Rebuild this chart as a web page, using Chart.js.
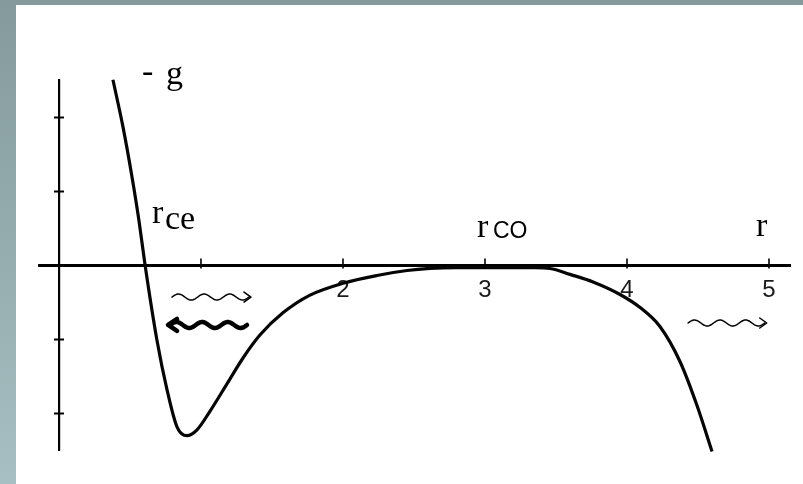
<!DOCTYPE html>
<html>
<head>
<meta charset="utf-8">
<script src="https://cdn.jsdelivr.net/npm/chart.js@4/dist/chart.umd.min.js"></script>
<style>
  html, body { margin: 0; padding: 0; background: #ffffff; }
  #wrap { position: relative; width: 803px; height: 484px; overflow: hidden; }
  #plot { position: absolute; left: 0; top: 0; }
  .bar-top { position: absolute; left: 0; top: 0; width: 803px; height: 5px; background: #849a9c; }
  .bar-left { position: absolute; left: 0; top: 0; width: 16px; height: 484px;
              background: linear-gradient(#849a9c, #a7bfc2); }
</style>
</head>
<body>
<div id="wrap">
  <canvas id="plot" width="803" height="484"></canvas>
  <div class="bar-top"></div>
  <div class="bar-left"></div>
</div>
<script>
// -g(r) curve
const radius = [0.380, 0.451, 0.514, 0.563, 0.606, 0.690, 0.761, 0.831, 0.901,
                0.972, 1.063, 1.183, 1.296, 1.415, 1.577, 1.768, 2.0, 2.239, 2.451,
                2.613, 2.8, 3.1, 3.35, 3.458, 3.599, 3.761, 3.951, 4.092, 4.232,
                4.373, 4.493, 4.599];
const minusG = [2.51, 1.87, 1.20, 0.61, 0.01, -1.01, -1.68, -2.18, -2.30,
                -2.22, -1.97, -1.60, -1.25, -0.94, -0.64, -0.40, -0.24, -0.135, -0.068,
                -0.04, -0.03, -0.03, -0.03, -0.04, -0.12, -0.223, -0.392, -0.568, -0.824,
                -1.297, -1.892, -2.514];

// axis ticks
const xTickValues = [1, 2, 3, 4, 5];
const xTickLabels = ["2", "3", "4", "5"];
const yTickValues = [-2, -1, 1, 2];

const SERIF = "'Liberation Serif', 'DejaVu Serif', serif";
const SANS = "'Liberation Sans', 'DejaVu Sans', sans-serif";

// text placed in data coordinates
const notes = [
  { text: "-", r: 0.585, g: 2.48, font: "34px " + SERIF },
  { text: "g", r: 0.754, g: 2.45, font: "34px " + SERIF },
  { text: "r", r: 0.655, g: 0.574, font: "34px " + SERIF },
  { text: "ce", r: 0.746, g: 0.493, font: "34px " + SERIF },
  { text: "r", r: 2.944, g: 0.385, font: "34px " + SERIF },
  { text: "CO", r: 3.056, g: 0.365, font: "23px " + SANS },
  { text: "r", r: 4.908, g: 0.399, font: "34px " + SERIF },
];

// wavy arrows: from r0 to r1 at height g, dir = side of the arrowhead
const waves = [
  { r0: 0.796, r1: 1.338, g: -0.426, dir: 1, width: 1.5, amp: 3 },
  { r0: 0.782, r1: 1.324, g: -0.804, dir: -1, width: 4.5, amp: 3 },
  { r0: 4.43, r1: 4.97, g: -0.777, dir: 1, width: 1.5, amp: 3 },
];

function drawWave(ctx, x0, x1, y, w) {
  const n = 80, periods = 3;
  ctx.save();
  ctx.strokeStyle = "#000";
  ctx.lineWidth = w.width;
  ctx.lineCap = "round";
  ctx.lineJoin = "round";
  ctx.beginPath();
  for (let i = 0; i <= n; i++) {
    const t = i / n;
    const px = x0 + (x1 - x0) * t;
    const py = y - w.amp * Math.sin(Math.PI * 2 * periods * t);
    if (i === 0) ctx.moveTo(px, py);
    else ctx.lineTo(px, py);
  }
  ctx.stroke();
  // arrowhead
  const tip = w.dir > 0 ? x1 + 2 : x0 - 2;
  const back = tip - w.dir * (w.width > 2 ? 9 : 7);
  const half = w.width > 2 ? 6 : 5;
  ctx.beginPath();
  ctx.moveTo(back, y - half);
  ctx.lineTo(tip, y);
  ctx.lineTo(back, y + half);
  ctx.stroke();
  ctx.restore();
}

const decorations = {
  id: "decorations",
  afterDatasetsDraw(chart) {
    const { ctx, scales } = chart;
    const sx = scales.x, sy = scales.y;
    const x0 = sx.getPixelForValue(0), y0 = sy.getPixelForValue(0);

    ctx.save();
    ctx.strokeStyle = "#000";
    // tick marks crossing the axes
    ctx.lineWidth = 1.6;
    xTickValues.forEach((v) => {
      const px = sx.getPixelForValue(v);
      ctx.beginPath();
      ctx.moveTo(px, y0 - 7);
      ctx.lineTo(px, y0 + 3);
      ctx.stroke();
    });
    ctx.lineWidth = 2;
    yTickValues.forEach((v) => {
      const py = sy.getPixelForValue(v);
      ctx.beginPath();
      ctx.moveTo(x0 - 5, py);
      ctx.lineTo(x0 + 5, py);
      ctx.stroke();
    });

    // labels
    ctx.fillStyle = "#000";
    ctx.textBaseline = "alphabetic";
    ctx.textAlign = "left";
    notes.forEach((n) => {
      ctx.font = n.font;
      ctx.fillText(n.text, sx.getPixelForValue(n.r), sy.getPixelForValue(n.g));
    });
    ctx.restore();

    waves.forEach((w) => {
      drawWave(ctx, sx.getPixelForValue(w.r0), sx.getPixelForValue(w.r1),
               sy.getPixelForValue(w.g), w);
    });
  },
};

new Chart(document.getElementById("plot"), {
  type: "line",
  data: {
    datasets: [
      {
        data: radius.map((r, i) => ({ x: r, y: minusG[i] })),
        borderColor: "#050505",
        borderWidth: 3.2,
        cubicInterpolationMode: "monotone",
        pointRadius: 0,
        fill: false,
        clip: false,
      },
    ],
  },
  options: {
    responsive: false,
    devicePixelRatio: 1,
    animation: false,
    events: [],
    layout: { padding: { left: 39.1, right: 12.7, top: 80.5, bottom: 33.5 } },
    plugins: { legend: { display: false }, tooltip: { enabled: false } },
    scales: {
      x: {
        type: "linear",
        min: -0.14,
        max: 5.15,
        position: { y: 0 },
        afterFit: (s) => { s.height = 0; },
        grid: { display: false, drawTicks: false },
        border: { display: true, color: "#000", width: 3 },
        ticks: {
          stepSize: 1,
          includeBounds: false,
          padding: 10,
          maxRotation: 0,
          autoSkip: false,
          color: "#1a1a1a",
          font: { family: SANS, size: 24 },
          callback: (v) => (xTickLabels.includes(String(v)) ? String(v) : ""),
        },
      },
      y: {
        type: "linear",
        min: -2.5,
        max: 2.5,
        position: { x: 0 },
        afterFit: (s) => { s.width = 0; },
        grid: { display: false, drawTicks: false },
        border: { display: true, color: "#000", width: 2.2 },
        ticks: { display: false },
      },
    },
  },
  plugins: [decorations],
});
</script>
</body>
</html>
